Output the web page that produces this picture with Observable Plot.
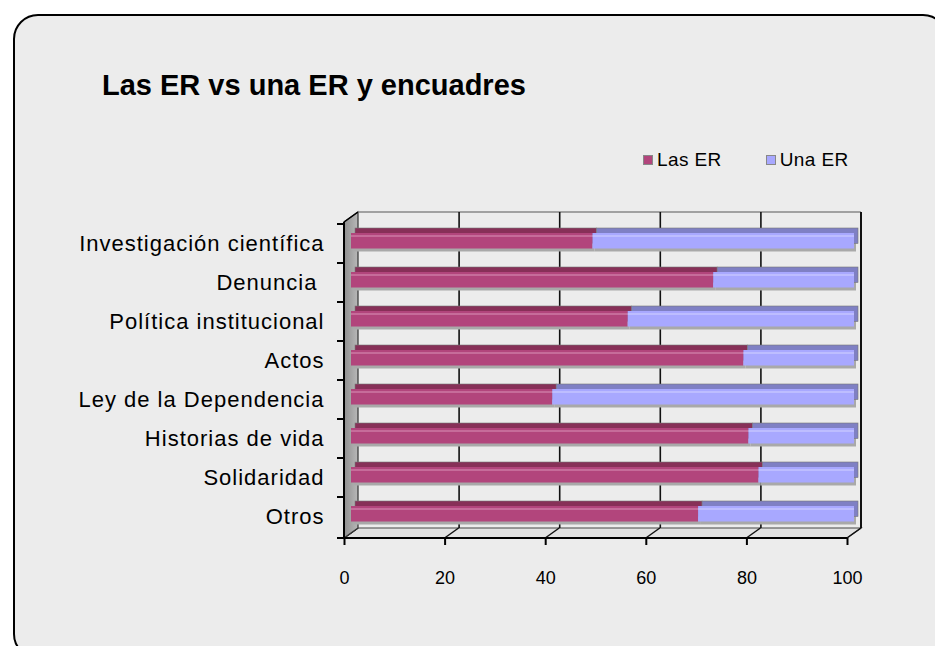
<!DOCTYPE html>
<html>
<head>
<meta charset="utf-8">
<script src="https://cdn.jsdelivr.net/npm/d3@7"></script>
<script src="https://cdn.jsdelivr.net/npm/@observablehq/plot@0.6"></script>
<style>
  html, body { margin: 0; padding: 0; background: #ffffff; width: 935px; height: 646px; overflow: hidden; font-family: "Liberation Sans", Arial, sans-serif; }
  #panel { position: absolute; left: 13px; top: 14px; width: 931px; height: 641px; border: 2px solid #000; border-radius: 25px; background: #ececec; }
  #title { position: absolute; left: 102px; top: 71px; font-size: 29px; line-height: 1; font-weight: bold; color: #000; white-space: nowrap; }
  #legend { position: absolute; left: 643px; top: 149px; font-size: 19px; color: #000; white-space: nowrap; display: flex; align-items: center; letter-spacing: 0.4px; }
  #legend .sw { display: inline-block; width: 8px; height: 8px; border: 1px solid #888; margin-right: 4px; }
  #legend .item { display: flex; align-items: center; margin-right: 44px; }
  #chart { position: absolute; left: 0; top: 0; }
  #chart g[aria-label="y-axis tick label"] text { letter-spacing: 1px; }
</style>
</head>
<body>
<div id="panel"></div>
<div id="chart"></div>
<div id="title"></div>
<div id="legend"></div>
<script>
// ---- data ----
const categories = ["Investigación científica", "Denuncia\u00a0", "Política institucional", "Actos", "Ley de la Dependencia", "Historias de vida", "Solidaridad", "Otros"];
const lasER = [48, 72, 55, 78, 40, 79, 81, 69];
const unaER = [52, 28, 45, 22, 60, 21, 19, 31];
const seriesNames = ["Las ER", "Una ER"];
const xTicks = [0, 20, 40, 60, 80, 100];
const titleText = "Las ER vs una ER y encuadres";

// ---- styles ----
const frontColor = {"Las ER": "#b2457c", "Una ER": "#a8a8ff"};
const shadeColor = {"Las ER": "#873058", "Una ER": "#7f80c4"};
const lightColor = {"Las ER": "#cf7ea6", "Una ER": "#c6c6ff"};
const D = 14, DY = 10;

const data = categories.flatMap((c, i) => [
  {cat: c, series: seriesNames[0], value: lasER[i]},
  {cat: c, series: seriesNames[1], value: unaER[i]}
]);

document.getElementById("title").textContent = titleText;
const leg = document.getElementById("legend");
seriesNames.forEach(s => {
  const it = document.createElement("span"); it.className = "item";
  const sw = document.createElement("span"); sw.className = "sw"; sw.style.background = frontColor[s];
  it.appendChild(sw); it.appendChild(document.createTextNode(s)); leg.appendChild(it);
});

function frame3d(index, scales, values, dims) {
  const x = scales.x, y = scales.y;
  const x0 = x(0), x1 = x(100);
  const top = dims.marginTop, bot = dims.height - dims.marginBottom;
  const g = d3.create("svg:g");
  // floor
  g.append("path").attr("d", `M${x0},${bot}L${x0+D},${bot-DY}L${x1+D},${bot-DY}L${x1},${bot}Z`)
    .attr("fill", "#e2e2e2").attr("stroke", "#444").attr("stroke-width", 1.2);
  // floor diagonals
  xTicks.forEach(t => {
    g.append("line").attr("x1", x(t)).attr("y1", bot).attr("x2", x(t) + D).attr("y2", bot - DY)
      .attr("stroke", "#111").attr("stroke-width", 1.5);
  });
  // left wall
  const grad = g.append("linearGradient").attr("id", "wallg").attr("x1", 0).attr("x2", 1).attr("y1", 0).attr("y2", 0);
  grad.append("stop").attr("offset", 0).attr("stop-color", "#8f8f8f");
  grad.append("stop").attr("offset", 1).attr("stop-color", "#b8b8b8");
  g.append("path").attr("d", `M${x0},${top}L${x0+D},${top-DY}L${x0+D},${bot-DY}L${x0},${bot}Z`)
    .attr("fill", "url(#wallg)").attr("stroke", "#333").attr("stroke-width", 1.2);
  // back wall edges
  g.append("line").attr("x1", x0 + D).attr("y1", top - DY).attr("x2", x1 + D).attr("y2", top - DY)
    .attr("stroke", "#888").attr("stroke-width", 1.5);
  g.append("line").attr("x1", x1 + D).attr("y1", top - DY).attr("x2", x1 + D).attr("y2", bot - DY)
    .attr("stroke", "#111").attr("stroke-width", 2);
  return g.node();
}

function front3d(index, scales, values, dims) {
  const x = scales.x, y = scales.y;
  const x0 = x(0), x1 = x(100);
  const top = dims.marginTop, bot = dims.height - dims.marginBottom;
  const g = d3.create("svg:g").attr("stroke", "#000");
  g.append("line").attr("x1", x0).attr("y1", top).attr("x2", x0).attr("y2", bot + 1).attr("stroke-width", 2);
  g.append("line").attr("x1", x0).attr("y1", bot).attr("x2", x1).attr("y2", bot).attr("stroke-width", 2);
  g.append("line").attr("x1", x0).attr("y1", top).attr("x2", x0 + D).attr("y2", top - DY).attr("stroke-width", 1.5);
  const bounds = categories.map(c => y(c)).concat([bot]);
  bounds.forEach(b => {
    g.append("line").attr("x1", x0 - 7).attr("y1", b).attr("x2", x0).attr("y2", b).attr("stroke-width", 2);
  });
  return g.node();
}

const barOpts = (extra) => Plot.stackX({x: "value", y: "cat", z: "series", insetTop: 9, insetBottom: 14.5, ...extra});

const chart = Plot.plot({
  width: 935,
  height: 646,
  marginLeft: 344,
  marginRight: 88,
  marginTop: 222,
  marginBottom: 108,
  style: {background: "transparent", fontFamily: "Liberation Sans, Arial, sans-serif", color: "#000"},
  x: {domain: [0, 100]},
  y: {domain: categories, padding: 0},
  marks: [
    frame3d,
    Plot.ruleX(xTicks.slice(1, -1), {dx: D, dy: -DY, stroke: "#111", strokeWidth: 1.6}),
    // bar shadow
    Plot.barX(data, barOpts({fill: "#a9a9a9", dx: 9, dy: 3})),
    // bar top / side
    Plot.barX(data, barOpts({fill: d => shadeColor[d.series], dx: 11, dy: -5, stroke: "#777", strokeWidth: 0.6})),
    // bar front face
    Plot.barX(data, barOpts({fill: d => frontColor[d.series], dx: 7, dy: 0})),
    // highlight
    Plot.barX(data, Plot.stackX({x: "value", y: "cat", z: "series", insetTop: 11, insetBottom: 26, dx: 7, fill: d => lightColor[d.series], fillOpacity: 0.7})),
    front3d,
    Plot.axisY({tickSize: 0, tickPadding: 20, fontSize: 22, label: null}),
    Plot.axisX({ticks: xTicks, tickSize: 7, tickPadding: 26, fontSize: 18, label: null, strokeWidth: 2})
  ]
});
document.getElementById("chart").appendChild(chart);
</script>
</body>
</html>
